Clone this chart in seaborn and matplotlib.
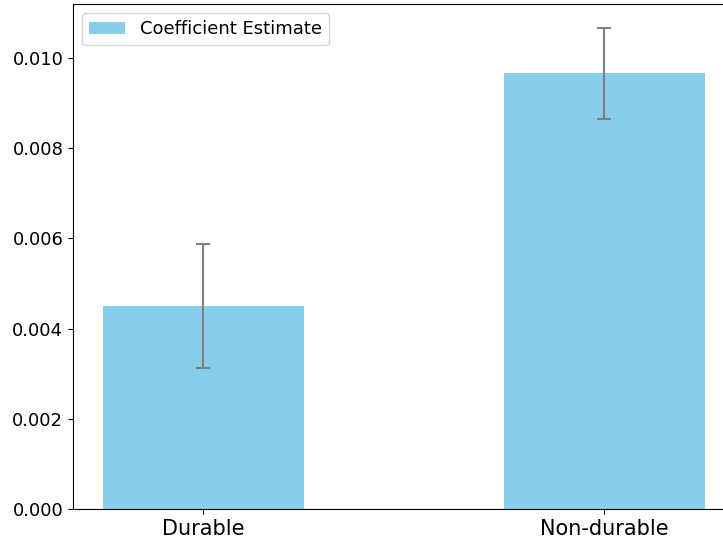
import matplotlib
matplotlib.use("Agg")
import matplotlib.pyplot as plt
import seaborn as sns
import pandas as pd

categories = ["Durable", "Non-durable"]
coefficients = [0.00450, 0.00966]
std_errors = [0.00138, 0.00101]

df = pd.DataFrame({"category": categories, "coef": coefficients})

fig = plt.figure(figsize=(7.23, 5.40), dpi=100)
W, H = 723, 540
left, right_px, top, bottom = 73, 73 + 1.65 * 401, 4, 509
ax = fig.add_axes([left / W, (H - bottom) / H, (right_px - left) / W, (bottom - top) / H])

sns.barplot(data=df, x="category", y="coef", color="skyblue", saturation=1,
            width=0.5, linewidth=0, label="Coefficient Estimate", ax=ax)
ax.errorbar(x=list(range(len(categories))), y=coefficients, yerr=std_errors,
            fmt="none", ecolor="gray", capsize=5, elinewidth=1.5, capthick=1.5)

ax.set_xlim(-0.325, 1.325)
ax.set_ylim(0, 0.0112)
ax.set_xlabel("")
ax.set_ylabel("")
ax.tick_params(axis="x", labelsize=15)
ax.tick_params(axis="y", labelsize=13)
ax.legend(loc="upper left", fontsize=13)

fig.savefig("out.png", dpi=100)
